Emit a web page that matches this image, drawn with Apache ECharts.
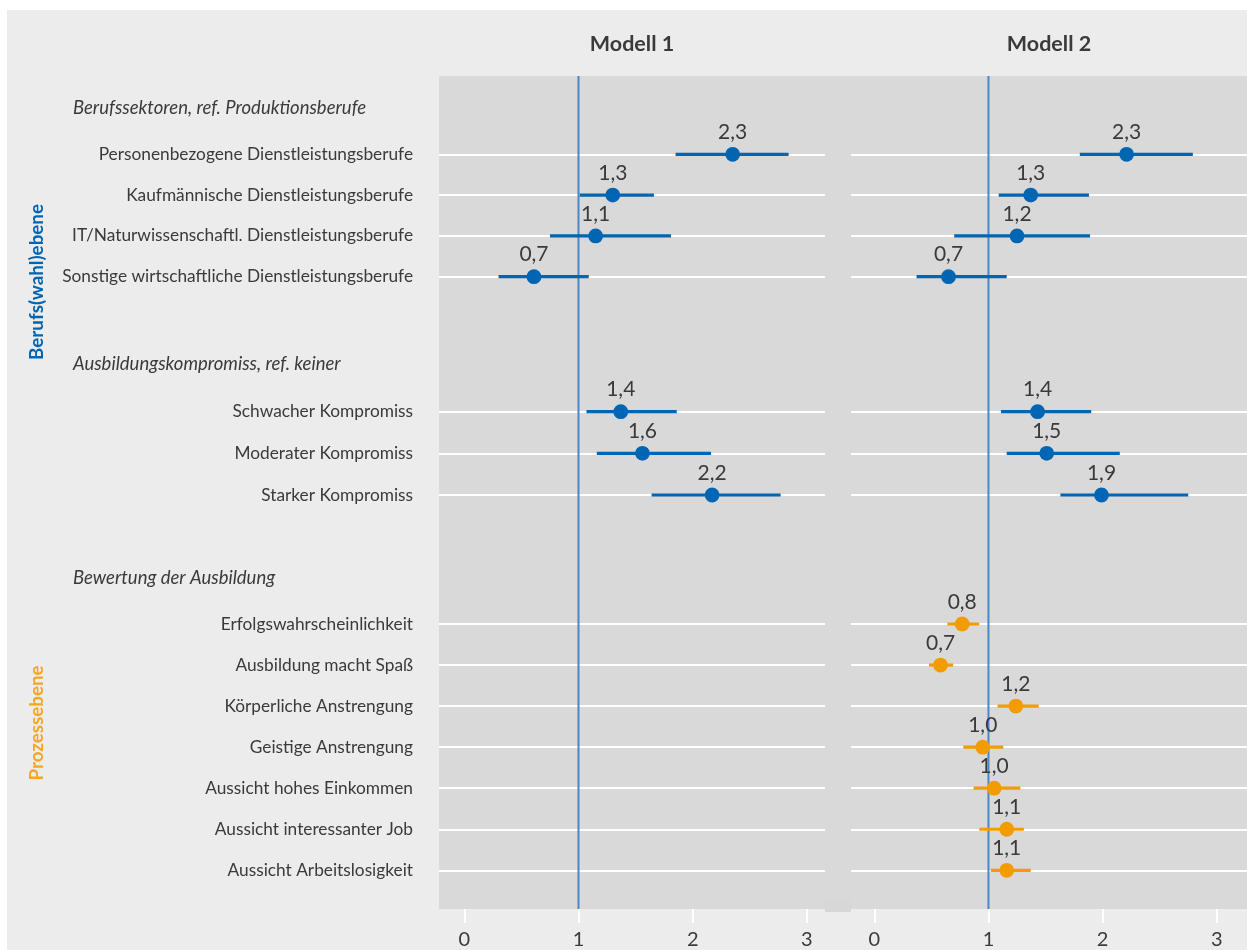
<!DOCTYPE html>
<html><head><meta charset="utf-8">
<script src="https://cdn.jsdelivr.net/npm/echarts@6/dist/echarts.min.js"></script>
<style>html,body{margin:0;padding:0;background:#fff}#c{width:1247px;height:950px}</style>
</head><body><div id="c"></div>
<script>
const FONT = "Lato, Roboto, 'Noto Sans', sans-serif";

// ---------- data ----------
const modelTitles = ['Modell 1', 'Modell 2'];
const sideLabels = ['Berufs(wahl)ebene', 'Prozessebene'];
const groupTitles = ['Berufssektoren, ref. Produktionsberufe', 'Ausbildungskompromiss, ref. keiner', 'Bewertung der Ausbildung'];
const cats1 = ['Personenbezogene Dienstleistungsberufe', 'Kaufmännische Dienstleistungsberufe', 'IT/Naturwissenschaftl. Dienstleistungsberufe', 'Sonstige wirtschaftliche Dienstleistungsberufe'];
const cats2 = ['Schwacher Kompromiss', 'Moderater Kompromiss', 'Starker Kompromiss'];
const cats3 = ['Erfolgswahrscheinlichkeit', 'Ausbildung macht Spaß', 'Körperliche Anstrengung', 'Geistige Anstrengung', 'Aussicht hohes Einkommen', 'Aussicht interessanter Job', 'Aussicht Arbeitslosigkeit'];
const xTicks = [0, 1, 2, 3];
const refValue = 1;

// Modell 1
const m1g1Est = [2.35, 1.30, 1.15, 0.61];
const m1g1Lo  = [1.85, 1.01, 0.75, 0.30];
const m1g1Hi  = [2.84, 1.66, 1.81, 1.09];
const m1g1Lbl = ['2,3', '1,3', '1,1', '0,7'];
const m1g2Est = [1.37, 1.56, 2.17];
const m1g2Lo  = [1.07, 1.16, 1.64];
const m1g2Hi  = [1.86, 2.16, 2.77];
const m1g2Lbl = ['1,4', '1,6', '2,2'];
// Modell 2
const m2g1Est = [2.21, 1.37, 1.25, 0.65];
const m2g1Lo  = [1.80, 1.09, 0.70, 0.37];
const m2g1Hi  = [2.79, 1.88, 1.89, 1.16];
const m2g1Lbl = ['2,3', '1,3', '1,2', '0,7'];
const m2g2Est = [1.43, 1.51, 1.99];
const m2g2Lo  = [1.11, 1.16, 1.63];
const m2g2Hi  = [1.90, 2.15, 2.75];
const m2g2Lbl = ['1,4', '1,5', '1,9'];
const m2g3Est = [0.77, 0.58, 1.24, 0.95, 1.05, 1.16, 1.16];
const m2g3Lo  = [0.64, 0.48, 1.08, 0.78, 0.87, 0.92, 1.02];
const m2g3Hi  = [0.92, 0.69, 1.44, 1.13, 1.28, 1.31, 1.37];
const m2g3Lbl = ['0,8', '0,7', '1,2', '1,0', '1,0', '1,1', '1,1'];

// ---------- layout / style ----------
const BLUE = '#0066b3', ORANGE = '#f39c00', TXT = '#3a3a3a';
const panels = [
  { left: 439, right: 825, x0: 464.3, x3: 806.9 },
  { left: 851, right: 1247, x0: 874.3, x3: 1216.8 }
];
const panelTop = 76, panelBottom = 909;
const groupRows = [
  { top: 154.3, bottom: 276.7 },
  { top: 411.7, bottom: 495 },
  { top: 624, bottom: 870.3 }
];
const groupCats = [cats1, cats2, cats3];
const modelData = [
  [
    { est: m1g1Est, lo: m1g1Lo, hi: m1g1Hi, lbl: m1g1Lbl, color: BLUE },
    { est: m1g2Est, lo: m1g2Lo, hi: m1g2Hi, lbl: m1g2Lbl, color: BLUE },
    { est: [], lo: [], hi: [], lbl: [], color: ORANGE }
  ],
  [
    { est: m2g1Est, lo: m2g1Lo, hi: m2g1Hi, lbl: m2g1Lbl, color: BLUE },
    { est: m2g2Est, lo: m2g2Lo, hi: m2g2Hi, lbl: m2g2Lbl, color: BLUE },
    { est: m2g3Est, lo: m2g3Lo, hi: m2g3Hi, lbl: m2g3Lbl, color: ORANGE }
  ]
];

const grid = [], xAxis = [], yAxis = [], series = [];

// axis grids (ticks 0..3 + reference line)
panels.forEach((p, i) => {
  grid.push({ left: p.x0, width: p.x3 - p.x0, top: panelTop, height: panelBottom - panelTop, show: false, containLabel: false, outerBoundsMode: 'none' });
  xAxis.push({
    gridIndex: i, type: 'value', min: xTicks[0], max: xTicks[xTicks.length - 1], interval: 1,
    axisLine: { show: false },
    axisTick: { show: true, length: 14, lineStyle: { color: '#ffffff', width: 2 } },
    axisLabel: { color: TXT, fontSize: 20, fontFamily: FONT, margin: 21 },
    splitLine: { show: false }
  });
  yAxis.push({ gridIndex: i, type: 'value', min: 0, max: 1, show: false });
  series.push({
    type: 'line', xAxisIndex: i, yAxisIndex: i, symbol: 'none', silent: true, z: 3,
    lineStyle: { color: '#4a86c8', width: 2 },
    data: [[refValue, 0], [refValue, 1]]
  });
});

function makeRender(color, labels) {
  return function (params, api) {
    const c = api.value(0);
    const p = api.coord([api.value(1), c]);
    const lo = api.coord([api.value(2), c]);
    const hi = api.coord([api.value(3), c]);
    return {
      type: 'group',
      children: [
        { type: 'line', shape: { x1: lo[0], y1: lo[1], x2: hi[0], y2: hi[1] }, style: { stroke: color, lineWidth: 3.2 } },
        { type: 'circle', shape: { cx: p[0], cy: p[1], r: 7.4 }, style: { fill: color } },
        { type: 'text', x: p[0], y: p[1] - 22,
          style: { text: labels[params.dataIndex], fill: TXT, fontSize: 21, fontFamily: FONT,
                   align: 'center', verticalAlign: 'middle', textAlign: 'center', textVerticalAlign: 'middle' } }
      ]
    };
  };
}

// group grids
panels.forEach((p, mi) => {
  const unit = (p.x3 - p.x0) / 3;
  groupRows.forEach((g, gi) => {
    const idx = grid.length;
    grid.push({ left: p.left, width: p.right - p.left, top: g.top, height: g.bottom - g.top, show: false, containLabel: false, outerBoundsMode: 'none' });
    xAxis.push({ gridIndex: idx, type: 'value', min: (p.left - p.x0) / unit, max: (p.right - p.x0) / unit, show: false });
    yAxis.push({
      gridIndex: idx, type: 'category', data: groupCats[gi], inverse: true, boundaryGap: false,
      axisLine: { show: false }, axisTick: { show: false },
      axisLabel: { show: mi === 0, interval: 0, color: TXT, fontSize: 17.3, fontFamily: FONT, margin: 26 },
      splitLine: { show: true, interval: 0, lineStyle: { color: '#ffffff', width: 2 } }
    });
    const d = modelData[mi][gi];
    series.push({
      type: 'custom', xAxisIndex: idx, yAxisIndex: idx, z: 5, silent: true,
      renderItem: makeRender(d.color, d.lbl),
      encode: { x: [1, 2, 3], y: 0 },
      data: d.est.map((v, k) => [k, v, d.lo[k], d.hi[k]])
    });
  });
});

const graphic = [
  { type: 'rect', z: -20, shape: { x: 7, y: 10, width: 1240, height: 940 }, style: { fill: '#ececec' }, silent: true },
  { type: 'rect', z: -10, shape: { x: panels[0].left, y: panelTop, width: panels[1].right - panels[0].left, height: panelBottom - panelTop }, style: { fill: '#d9d9d9' }, silent: true },
  { type: 'rect', z: -10, shape: { x: panels[0].right, y: panelBottom - 10, width: panels[1].left - panels[0].right, height: 13 }, style: { fill: '#d7d7d7' }, silent: true }
];
modelTitles.forEach((t, i) => {
  graphic.push({ type: 'text', x: i === 0 ? 632 : 1049, y: 44,
    style: { text: t, fill: TXT, fontSize: 21.5, fontWeight: 'bold', fontFamily: FONT, align: 'center', verticalAlign: 'middle', textAlign: 'center', textVerticalAlign: 'middle' } });
});
const headerY = [108, 364, 578];
groupTitles.forEach((t, i) => {
  graphic.push({ type: 'text', x: 73, y: headerY[i],
    style: { text: t, fill: TXT, fontSize: 18.5, fontStyle: 'italic', fontFamily: FONT, align: 'left', verticalAlign: 'middle', textAlign: 'left', textVerticalAlign: 'middle' } });
});
const sideY = [282, 723], sideColor = [BLUE, '#f5a623'];
sideLabels.forEach((t, i) => {
  graphic.push({ type: 'text', x: 37, y: sideY[i], rotation: Math.PI / 2,
    style: { text: t, fill: sideColor[i], fontSize: 18.8, fontWeight: 'bold', fontFamily: FONT, align: 'center', verticalAlign: 'middle', textAlign: 'center', textVerticalAlign: 'middle' } });
});

const chart = echarts.init(document.getElementById('c'), null, { renderer: 'canvas' });
chart.setOption({
  backgroundColor: '#ffffff',
  animation: false,
  grid, xAxis, yAxis, series, graphic
});
</script>
</body></html>
